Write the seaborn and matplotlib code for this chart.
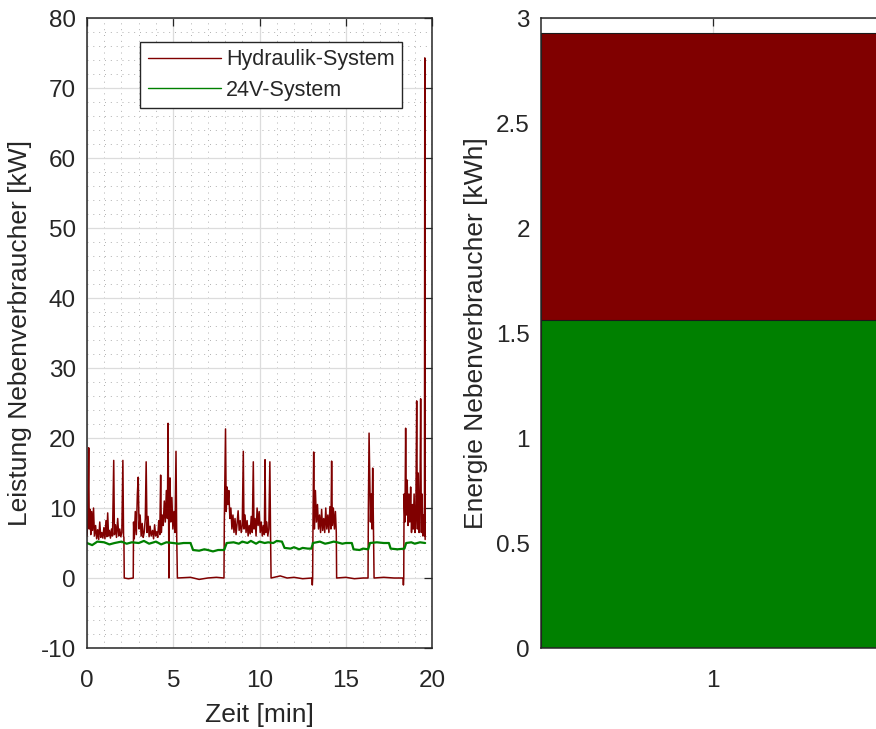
import numpy as np
import pandas as pd
import matplotlib
matplotlib.use("Agg")
import matplotlib.pyplot as plt
from matplotlib.ticker import MultipleLocator
import seaborn as sns

# Hydraulik-System, Leistung in kW ueber Zeit in min
t_hyd = [0.00, 0.05, 0.10, 0.13, 0.18, 0.22, 0.27, 0.32, 0.38, 0.43, 0.50, 0.56, 0.62, 0.68, 0.74,
         0.80, 0.86, 0.92, 0.98, 1.04, 1.10, 1.15, 1.20, 1.25, 1.30, 1.36, 1.42, 1.48, 1.55, 1.59,
         1.65, 1.71, 1.78, 1.84, 1.90, 1.96, 2.02, 2.08, 2.12, 2.14, 2.16, 2.40, 2.68,
         2.70, 2.74, 2.80, 2.86, 2.92, 2.97, 3.02, 3.08, 3.14, 3.20, 3.26, 3.32, 3.38, 3.43, 3.48,
         3.54, 3.60, 3.66, 3.72, 3.80, 3.86, 3.92, 3.98, 4.04, 4.10, 4.16, 4.22, 4.27, 4.31, 4.36,
         4.42, 4.48, 4.54, 4.60, 4.66, 4.70, 4.73, 4.75, 4.77, 4.81, 4.86, 4.92, 4.98, 5.04, 5.10,
         5.16, 5.20, 5.24, 6.00, 6.50, 7.00, 7.50, 7.94,
         7.96, 8.03, 8.07, 8.12, 8.17, 8.22, 8.28, 8.34, 8.40, 8.46, 8.52, 8.58, 8.64, 8.70, 8.76,
         8.82, 8.88, 8.94, 9.00, 9.06, 9.10, 9.16, 9.22, 9.28, 9.34, 9.40, 9.46, 9.52, 9.58, 9.64,
         9.68, 9.74, 9.80, 9.86, 9.92, 9.98, 10.04, 10.10, 10.16, 10.22, 10.28, 10.32, 10.36, 10.42,
         10.48, 10.54, 10.60, 10.64, 10.67, 11.20, 11.60, 12.00, 12.50, 13.04, 13.06, 13.08,
         13.10, 13.14, 13.18, 13.24, 13.30, 13.36, 13.42, 13.48, 13.54, 13.60, 13.66, 13.72, 13.78,
         13.84, 13.90, 13.96, 14.02, 14.08, 14.14, 14.18, 14.22, 14.28, 14.34, 14.40, 14.45, 14.47,
         15.00, 15.50, 16.00, 16.29,
         16.31, 16.35, 16.39, 16.43, 16.48, 16.52, 16.56, 16.60, 16.64, 17.20, 17.80, 18.32, 18.34,
         18.36, 18.38, 18.43, 18.47, 18.51, 18.56, 18.61, 18.66, 18.71, 18.76, 18.81, 18.86, 18.91,
         18.96, 19.01, 19.06, 19.11, 19.15, 19.20, 19.25, 19.30, 19.34, 19.38, 19.42, 19.47, 19.52,
         19.56, 19.58, 19.60]
p_hyd = [6.0, 8.5, 18.6, 7.0, 9.8, 6.2, 9.5, 6.8, 10.0, 6.0, 7.5, 5.6, 6.9, 5.5, 8.0,
         5.8, 6.5, 5.7, 7.2, 5.6, 8.2, 5.9, 9.3, 6.0, 6.8, 5.7, 7.0, 6.0, 16.8, 6.2,
         7.6, 5.8, 8.5, 6.0, 7.0, 5.9, 6.5, 16.8, 6.0, 5.8, 0.0, -0.1, 0.0,
         8.0, 5.6, 9.5, 6.2, 12.0, 14.4, 7.0, 9.0, 6.0, 7.8, 5.8, 6.6, 8.5, 16.6, 6.5,
         8.8, 5.9, 7.4, 6.0, 6.8, 5.6, 7.6, 6.0, 6.6, 5.8, 8.2, 6.2, 14.7, 6.5, 9.0,
         7.5, 11.0, 8.0, 12.5, 8.5, 22.1, 9.0, 0.0, 9.5, 14.3, 8.0, 11.5, 7.0, 9.5, 6.5,
         18.1, 6.0, 0.0, 0.1, -0.2, 0.0, 0.1, 0.0,
         8.0, 21.3, 9.5, 13.0, 10.5, 12.5, 8.5, 10.0, 7.0, 9.0, 6.5, 8.5, 6.2, 7.8, 9.6,
         6.8, 8.2, 6.5, 7.5, 18.1, 7.0, 9.0, 6.5, 8.2, 6.0, 7.5, 6.3, 8.8, 6.5, 16.6,
         7.0, 8.5, 6.0, 10.0, 7.5, 9.5, 6.5, 8.0, 6.0, 7.5, 6.2, 16.9, 6.5, 8.0,
         6.0, 7.0, 16.6, 6.0, 0.0, 0.3, 0.0, 0.1, -0.1, 0.0, -1.0, 0.0,
         8.0, 18.0, 7.0, 12.5, 8.0, 10.5, 7.0, 9.0, 6.5, 9.8, 6.8, 8.5, 6.5,
         10.0, 7.0, 9.0, 6.5, 10.2, 7.0, 16.7, 7.5, 10.0, 7.0, 9.5, 6.5, 0.0,
         0.1, -0.1, 0.0, 0.0,
         10.0, 20.7, 14.0, 8.0, 12.0, 7.0, 15.7, 8.0, 0.0, 0.1, 0.0, 0.0, -1.0,
         0.0, 12.0, 8.0, 21.4, 9.0, 14.0, 7.5, 12.0, 8.0, 13.0, 6.5, 10.5, 7.0,
         12.0, 6.5, 9.0, 25.3, 7.0, 15.0, 6.5, 11.0, 25.6, 6.5, 12.0, 6.0, 9.0,
         6.0, 74.3, 5.5]

# 24V-System
t_24v = [0.0, 0.3, 0.6, 1.0, 1.3, 1.6, 2.0, 2.3, 2.6, 3.0, 3.3, 3.6, 4.0, 4.3, 4.6, 5.0, 5.3, 5.6,
         6.0, 6.15, 6.5, 6.8, 7.0, 7.3, 7.6, 7.95, 8.1, 8.5, 8.8, 9.0, 9.3, 9.5, 9.8, 10.0, 10.3,
         10.5, 10.8, 11.0, 11.3, 11.45, 11.8, 12.0, 12.3, 12.5, 12.8, 13.0, 13.1, 13.5, 13.8, 14.0,
         14.3, 14.5, 14.8, 15.0, 15.35, 15.45, 15.8, 16.0, 16.3, 16.4, 16.8, 17.2, 17.5, 17.6,
         18.0, 18.4, 18.5, 18.8, 19.0, 19.3, 19.6]
p_24v = [5.0, 4.7, 5.2, 5.1, 4.8, 5.0, 5.2, 4.9, 5.1, 5.0, 5.3, 4.9, 5.2, 4.8, 5.1, 5.0, 4.9, 5.0,
         5.0, 4.0, 3.9, 4.1, 4.0, 3.8, 4.0, 4.0, 5.0, 5.1, 4.9, 5.2, 5.0, 5.3, 4.9, 5.2, 5.0,
         5.1, 5.0, 5.3, 5.2, 4.3, 4.2, 4.4, 4.1, 4.3, 4.2, 4.2, 5.0, 5.2, 4.9, 5.0,
         5.2, 5.1, 4.9, 5.0, 5.0, 4.1, 4.0, 4.2, 4.1, 5.0, 5.1, 5.0, 5.0, 4.2,
         4.1, 4.2, 5.0, 5.1, 4.9, 5.1, 5.0]

# Energie [kWh]
e_24v = 1.56
e_hyd = 1.37
e_ticks = [0, 0.5, 1, 1.5, 2, 2.5, 3]
e_labels = ["0", "0.5", "1", "1.5", "2", "2.5", "3"]

red = "#800000"
green = "#008000"
txt = "#262626"

sns.set_style("white")
plt.rcParams["font.family"] = ["Liberation Sans", "DejaVu Sans"]
plt.rcParams["axes.unicode_minus"] = False

fig = plt.figure(figsize=(8.76, 7.29), dpi=100)
ax1 = fig.add_axes([0.0993, 0.1111, 0.3939, 0.8642])
ax2 = fig.add_axes([0.6176, 0.1111, 0.3927, 0.8642])

df_h = pd.DataFrame({"t": t_hyd, "p": p_hyd})
df_v = pd.DataFrame({"t": t_24v, "p": p_24v})
sns.lineplot(data=df_h, x="t", y="p", color=red, lw=1.1, estimator=None, sort=False,
             label="Hydraulik-System", ax=ax1)
sns.lineplot(data=df_v, x="t", y="p", color=green, lw=1.6, estimator=None, sort=False,
             label="24V-System", ax=ax1)

ax1.set_xlim(0, 20)
ax1.set_ylim(-10, 80)
ax1.xaxis.set_major_locator(MultipleLocator(5))
ax1.xaxis.set_minor_locator(MultipleLocator(1))
ax1.yaxis.set_major_locator(MultipleLocator(10))
ax1.yaxis.set_minor_locator(MultipleLocator(2))
ax1.grid(which="major", color="#dcdcdc", lw=0.9)
ax1.grid(which="minor", color="#b0b0b0", lw=0.7, ls=(0, (1, 5)))
ax1.set_axisbelow(True)
ax1.set_xlabel("Zeit [min]", fontsize=19, color=txt, labelpad=7.5)
ax1.set_ylabel("Leistung Nebenverbraucher [kW]", fontsize=19, color=txt, labelpad=6)
leg = ax1.legend(loc="upper left", bbox_to_anchor=(0.154, 0.962), fontsize=15.5,
                 fancybox=False, framealpha=1, edgecolor=txt, handlelength=3.4,
                 borderpad=0.35, labelspacing=0.42, handletextpad=0.25, borderaxespad=0)
leg.get_frame().set_linewidth(1.0)
for h in leg.get_lines():
    h.set_linewidth(1.0)

# gestapelter Balken: Gesamt (rot) hinten, 24V (gruen) davor
sns.barplot(x=["1"], y=[e_24v + e_hyd], color=red, saturation=1, width=1.0,
            edgecolor="#1a1a1a", linewidth=0.8, ax=ax2)
sns.barplot(x=["1"], y=[e_24v], color=green, saturation=1, width=1.0,
            edgecolor="#1a1a1a", linewidth=0.8, ax=ax2)
ax2.set_xlim(-0.5, 0.5)
ax2.set_ylim(0, 3)
ax2.set_yticks(e_ticks, e_labels)
ax2.grid(which="major", color="#dcdcdc", lw=0.9)
ax2.set_axisbelow(True)
ax2.set_xlabel("")
ax2.set_ylabel("Energie Nebenverbraucher [kWh]", fontsize=19, color=txt, labelpad=6)

for ax in (ax1, ax2):
    for s in ax.spines.values():
        s.set_visible(True)
        s.set_color(txt)
        s.set_linewidth(1.1)
    ax.tick_params(which="both", direction="in", top=True, right=True, labelsize=17.5,
                   colors=txt, width=0.9)
    ax.tick_params(which="major", length=6)
    ax.tick_params(which="minor", length=0)
    ax.tick_params(axis="x", pad=16)
    ax.tick_params(axis="y", pad=8)

fig.savefig("out.png", dpi=100)
